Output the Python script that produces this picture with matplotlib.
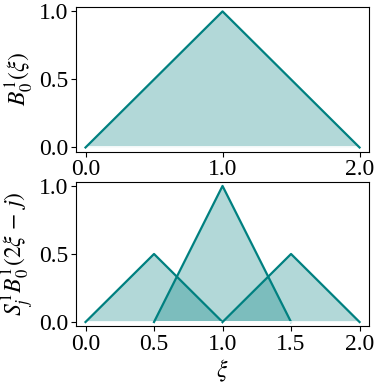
'''
hat function B_0^1 and its refinement into three scaled half-width hats
'''

import matplotlib.pyplot as plt

plt.rcParams['font.family'] = ['Liberation Serif', 'DejaVu Serif']
plt.rcParams['mathtext.fontset'] = 'stix'
plt.rcParams['font.size'] = 17

TEAL = '#008080'

# top panel: the parent hat
xi_parent = [0.0, 1.0, 2.0]
b_parent = [0.0, 1.0, 0.0]

# bottom panel: the three children S_j * B(2 xi - j)
xi_children = [
    [0.0, 0.5, 1.0],
    [0.5, 1.0, 1.5],
    [1.0, 1.5, 2.0],
]
b_children = [
    [0.0, 0.5, 0.0],
    [0.0, 1.0, 0.0],
    [0.0, 0.5, 0.0],
]

top_xticks = [0.0, 1.0, 2.0]
bottom_xticks = [0.0, 0.5, 1.0, 1.5, 2.0]
yticks = [0.0, 0.5, 1.0]


def draw_hat(ax, x, y):
    ax.fill_between(x, y, 0, facecolor=TEAL, alpha=0.3, edgecolor='none')
    ax.plot([x[0], x[-1]], [0, 0], color='white', lw=1.2)
    ax.plot(x, y, color=TEAL, lw=1.6)


fig, (ax1, ax2) = plt.subplots(2, 1, figsize=(3.74, 3.85), dpi=100)
fig.subplots_adjust(left=0.203, right=0.987, top=0.981, bottom=0.153, hspace=0.21)

draw_hat(ax1, xi_parent, b_parent)
for x, y in zip(xi_children, b_children):
    draw_hat(ax2, x, y)

for ax, ticks in ((ax1, top_xticks), (ax2, bottom_xticks)):
    ax.set_xlim(-0.07, 2.07)
    ax.set_ylim(-0.03, 1.03)
    ax.set_xticks(ticks)
    ax.set_xticklabels([f'{t:.1f}' for t in ticks])
    ax.set_yticks(yticks)
    ax.set_yticklabels([f'{t:.1f}' for t in yticks])
    ax.tick_params(pad=2)

ax1.set_ylabel(r'$B_0^1(\xi)$', labelpad=2)
ax2.set_ylabel(r'$S_j^1 B_0^1(2\xi\,-\,j)$', labelpad=2)
ax2.set_xlabel(r'$\xi$', labelpad=2)

plt.savefig('out.png')
